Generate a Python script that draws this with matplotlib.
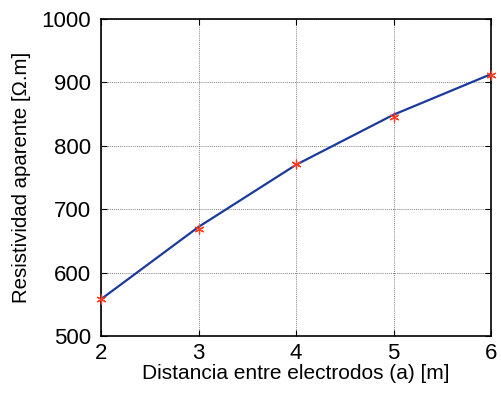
import matplotlib
matplotlib.use("Agg")
import matplotlib.pyplot as plt

# data
distancia = [2, 3, 4, 5, 6]
resistividad_medida = [558, 669, 772, 845, 912]
resistividad_ajuste = [558, 672, 770, 849, 913]
xticks = [2, 3, 4, 5, 6]
yticks = [500, 600, 700, 800, 900, 1000]

plt.rcParams['font.family'] = ['Liberation Sans', 'DejaVu Sans']

fig = plt.figure(figsize=(5.01, 3.94), dpi=100)
ax = fig.add_axes([101/501, 1-336/394, (491-101)/501, (336-19)/394])

ax.plot(distancia, resistividad_ajuste, color='#1a3a9c', lw=1.6, zorder=3)
ax.plot(distancia, resistividad_medida, ls='none', marker=(6, 2, 0), color='#ff3b1f',
        markersize=7, markeredgewidth=0.9, zorder=4, clip_on=False)

ax.set_xlim(2, 6)
ax.set_ylim(500, 1000)
ax.set_xticks(xticks)
ax.set_yticks(yticks)
ax.tick_params(direction='in', top=True, right=True, labelsize=16, length=4, width=0.8)
ax.tick_params(axis='y', pad=7)
ax.tick_params(axis='x', pad=5)
ax.grid(True, color='#555555', ls=(0, (1, 1.5)), lw=0.6)
for s in ax.spines.values():
    s.set_linewidth(1.2)

ax.set_xlabel('Distancia entre electrodos (a) [m]', fontsize=15, labelpad=0)
ax.set_ylabel('Resistividad aparente [Ω.m]', fontsize=14.7, labelpad=8)

fig.savefig('out.png', dpi=100)
